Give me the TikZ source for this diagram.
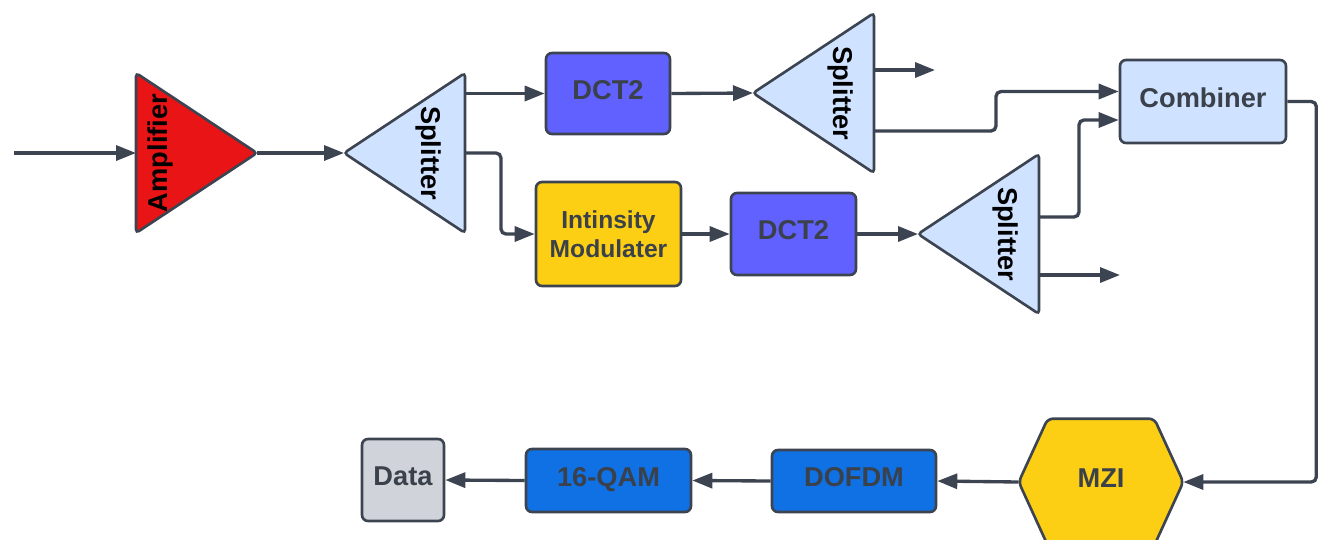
\documentclass[tikz,border=0pt]{standalone}
\usepackage{fontspec}
\setmainfont{Liberation Sans}
\usetikzlibrary{arrows.meta,calc,positioning,shapes.geometric,backgrounds}

\definecolor{linegray}{RGB}{61,68,81}
\definecolor{txtgray}{RGB}{58,65,74}
\definecolor{ampred}{RGB}{232,20,22}
\definecolor{splitblue}{RGB}{207,226,255}
\definecolor{dctpurple}{RGB}{97,97,255}
\definecolor{modyellow}{RGB}{252,206,20}
\definecolor{ofdmblue}{RGB}{16,113,229}
\definecolor{datagray}{RGB}{208,211,218}

\begin{document}
\begin{tikzpicture}[
  x=0.02cm, y=-0.02cm,
  font=\fontsize{15.5}{17}\selectfont\bfseries,
  box/.style={draw=linegray, line width=1.5pt, rounded corners=0.12cm, align=center, text=txtgray, inner sep=0pt, text height=1.5ex, text depth=0.3ex},
  tri/.style={draw=linegray, line width=1.5pt, shape=isosceles triangle, isosceles triangle stretches, rounded corners=2pt, inner sep=0pt, outer sep=0pt, minimum width=3.2cm, minimum height=2.42cm},
  tritext/.style={text=black, inner sep=0pt},
  conn/.style={draw=linegray, line width=1.9pt, rounded corners=0.1cm, -{Triangle[length=0.4cm,width=0.3cm]}}
]
\useasboundingbox (0,0) rectangle (1318,539);

% upper chain
\coordinate (in) at (14,153);
\node[tri, fill=ampred, anchor=apex] (amp) at (257,153) {};
\node[tritext, rotate=90] (amp-t) at ($(amp.lower side)+(24,0)$) {Amplifier};

\node[tri, fill=splitblue, shape border rotate=180, anchor=apex] (s1) at (344,153) {};
\node[tritext, rotate=-90] (s1-t) at ($(s1.lower side)+(-36,0)$) {Splitter};

\node[box, fill=dctpurple, minimum width=2.48cm, minimum height=1.62cm] (dct2a) at (608,93.5) {DCT2};
\node[tri, fill=splitblue, shape border rotate=180, anchor=apex] (s2) at (753,93) {};
\node[tritext, rotate=-90] (s2-t) at ($(s2.lower side)+(-33,0)$) {Splitter};

\node[box, fill=modyellow, minimum width=2.9cm, minimum height=2.08cm, text height=, text depth=, font=\fontsize{14}{16.5}\selectfont\bfseries] (im) at (608.5,234) {Intinsity\\Modulater};
\node[box, fill=dctpurple, minimum width=2.5cm, minimum height=1.64cm] (dct2b) at (793.5,234) {DCT2};
\node[tri, fill=splitblue, shape border rotate=180, anchor=apex] (s3) at (918,234) {};
\node[tritext, rotate=-90] (s3-t) at ($(s3.lower side)+(-33,0)$) {Splitter};

\node[box, fill=splitblue, minimum width=3.32cm, minimum height=1.66cm] (comb) at (1203,101.5) {Combiner};

% lower chain
\node[box, draw=none, minimum width=3.24cm, minimum height=2.48cm] (mzi) at (1101,482) {MZI};
\begin{scope}[on background layer]
  \filldraw[draw=linegray, fill=modyellow, line width=1.5pt, rounded corners=3pt]
    (mzi.west) -- ($(mzi.north west)+(29,0)$) -- ($(mzi.north east)+(-29,0)$) -- (mzi.east)
    -- ($(mzi.south east)+(-29,0)$) -- ($(mzi.south west)+(29,0)$) -- cycle;
\end{scope}
\node[box, fill=ofdmblue, minimum width=3.28cm, minimum height=1.24cm] (dofdm) at (854,481) {DOFDM};
\node[box, fill=ofdmblue, minimum width=3.3cm, minimum height=1.26cm] (qam) at (608.5,480.5) {16-QAM};
\node[box, fill=datagray, minimum width=1.64cm, minimum height=1.64cm] (data) at (403,480) {Data};

% connectors
\draw[conn] (in) -- (amp.lower side);
\draw[conn] (amp.apex) -- (s1.apex);
\draw[conn] (s1.lower side |- dct2a.west) -- (dct2a.west);
\draw[conn] (s1.lower side) -- ++(36,0) |- (im.west);
\draw[conn] (dct2a.east) -- (s2.apex);
\coordinate (out1) at (935,70);
\draw[conn] (s2.lower side |- out1) -- (out1);
\draw[conn] ($(s2.lower side)+(0,38)$) -- ++(122,0) |- ($(comb.west)+(0,-10)$);
\draw[conn] (im.east) -- (dct2b.west);
\draw[conn] (dct2b.east) -- (s3.apex);
\draw[conn] ($(s3.lower side)+(0,-17)$) -- ++(40,0) |- ($(comb.west)+(0,18.5)$);
\coordinate (out2) at (1120,275);
\draw[conn] (s3.lower side |- out2) -- (out2);
\draw[conn] (comb.east) -- ++(29,0) |- (mzi.east);
\draw[conn] (mzi.west) -- (dofdm.east);
\draw[conn] (dofdm.west) -- (qam.east);
\draw[conn] (qam.west) -- (data.east);

\end{tikzpicture}
\end{document}
